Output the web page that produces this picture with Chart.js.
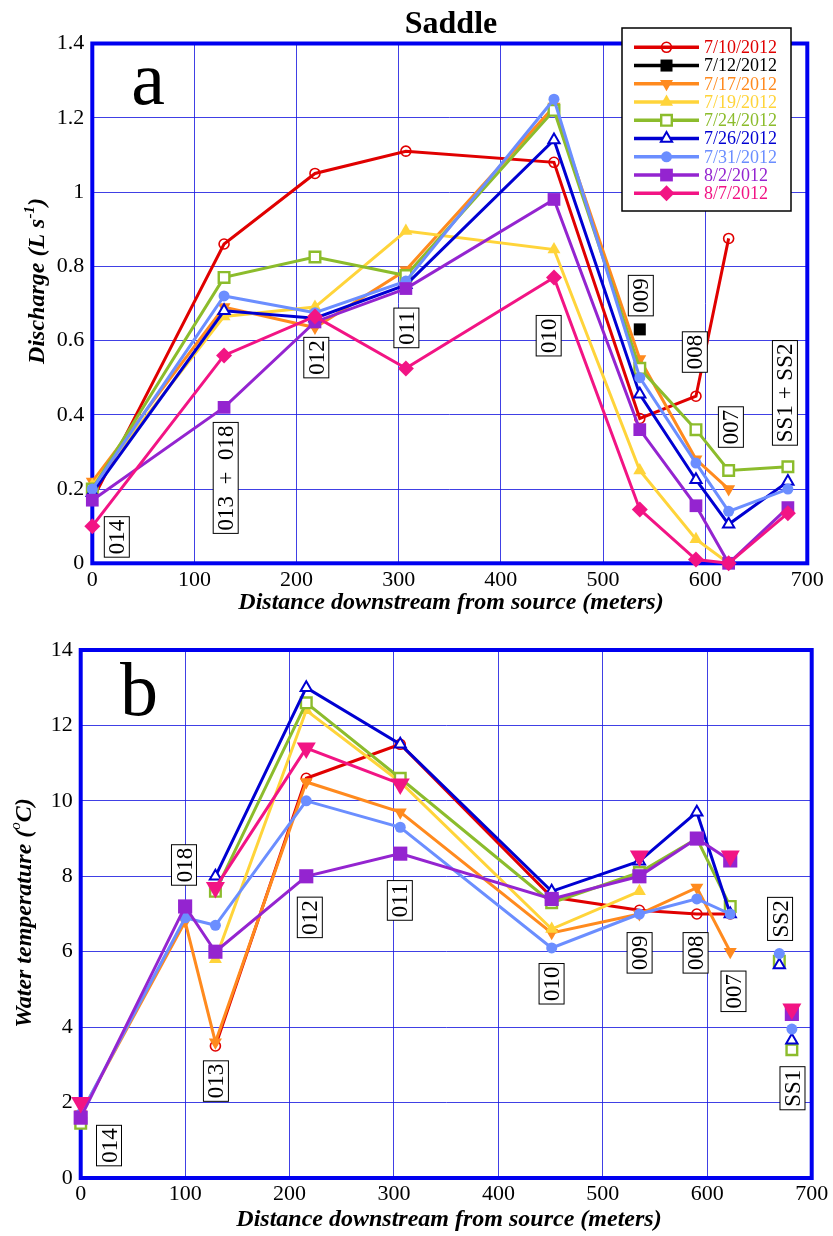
<!DOCTYPE html>
<html>
<head>
<meta charset="utf-8">
<script src="https://cdn.jsdelivr.net/npm/chart.js@4.4.1/dist/chart.umd.min.js"></script>
<style>
  html, body { margin: 0; padding: 0; background: #fff; }
  #wrapA { position: absolute; left: 0; top: 0; width: 833px; height: 615px; }
  #wrapB { position: absolute; left: 0; top: 615px; width: 833px; height: 621px; }
</style>
</head>
<body>
<div id="wrapA"><canvas id="chartA" width="833" height="615"></canvas></div>
<div id="wrapB"><canvas id="chartB" width="833" height="621"></canvas></div>
<script>
// ---- Survey dates ----
const seriesDates = ['7/10/2012', '7/12/2012', '7/17/2012', '7/19/2012', '7/24/2012',
                     '7/26/2012', '7/31/2012', '8/2/2012', '8/7/2012'];

// ---- Discharge (L s-1) by distance downstream (m) ----
const qDistance = [0, 129, 218, 307, 452, 536, 591, 623, 681];
const q_0710 = [0.17, 0.86, 1.05, 1.11, 1.08, 0.39, 0.45, 0.875, null];
const q_0712 = [null, null, null, null, null, 0.63, null, null, null];
const q_0717 = [0.22, 0.69, 0.635, 0.79, 1.23, 0.55, 0.28, 0.20, null];
const q_0719 = [0.21, 0.665, 0.69, 0.895, 0.845, 0.25, 0.065, 0.0, null];
const q_0724 = [0.20, 0.77, 0.825, 0.775, 1.22, 0.525, 0.36, 0.25, 0.26];
const q_0726 = [0.19, 0.68, 0.66, 0.75, 1.14, 0.455, 0.225, 0.105, 0.22];
const q_0731 = [0.20, 0.72, 0.675, 0.76, 1.25, 0.50, 0.27, 0.14, 0.20];
const q_0802 = [0.17, 0.42, 0.65, 0.74, 0.98, 0.36, 0.155, 0.0, 0.15];
const q_0807 = [0.10, 0.56, 0.665, 0.525, 0.77, 0.145, 0.01, 0.0, 0.135];

// ---- Water temperature (deg C) by distance downstream (m) ----
const tDistance = [0, 100, 129, 216, 306, 451, 535, 590, 622];
const t_0710 = [null, null, 3.5, 10.6, 11.5, 7.45, 7.1, 7.0, 7.0];
const t_0712 = [null, null, null, null, null, null, null, null, null];
const t_0717 = [1.7, 6.8, 3.6, 10.5, 9.7, 6.5, 7.0, 7.7, 6.0];
const t_0719 = [null, null, 5.8, 12.4, 10.5, 6.6, 7.6, null, null];
const t_0724 = [1.45, null, 7.6, 12.6, 10.6, 7.3, 8.1, 9.0, 7.2];
const t_0726 = [null, null, 8.0, 13.0, 11.5, 7.6, 8.4, 9.7, 7.0];
const t_0731 = [1.7, 6.9, 6.7, 10.0, 9.3, 6.1, 7.0, 7.4, 7.0];
const t_0802 = [1.6, 7.2, 6.0, 8.0, 8.6, 7.4, 8.0, 9.0, 8.42];
const t_0807 = [2.0, null, 7.7, 11.4, 10.45, null, 8.54, null, 8.54];

// Spring sources SS2 and SS1 (temperature only, not joined to the stream line)
const ssDistance = [669, 681];
const ss_0724 = [5.75, 3.4];
const ss_0726 = [5.65, 3.65];
const ss_0731 = [5.95, 3.95];
const ss_0802 = [null, 4.35];
const ss_0807 = [null, 4.48];

// ---- Axis ticks ----
const qTicks = [0, 0.2, 0.4, 0.6, 0.8, 1, 1.2, 1.4];
const tTicks = [0, 2, 4, 6, 8, 10, 12, 14];
const distTicks = [0, 100, 200, 300, 400, 500, 600, 700];

// ---- Site labels ----
const qSiteNames = ['014', '013  +  018', '012', '011', '010', '009', '008', '007', 'SS1 + SS2'];
const qSiteAt = [[24, 0.071], [130.6, 0.23], [219.3, 0.554], [307.5, 0.634], [446.8, 0.613],
                 [537, 0.721], [589.9, 0.569], [625.2, 0.367], [678.1, 0.459]];
const tSiteNames = ['014', '018', '013', '012', '011', '010', '009', '008', '007', 'SS2', 'SS1'];
const tSiteAt = [[27.1, 0.86], [98.9, 8.30], [129.5, 2.57], [219.4, 6.91], [305.6, 7.36],
                 [450.9, 5.15], [535.2, 5.97], [588.8, 5.97], [625.1, 4.95], [669.7, 6.87], [681.6, 2.38]];

const dischargeSeries = [q_0710, q_0712, q_0717, q_0719, q_0724, q_0726, q_0731, q_0802, q_0807];
const tempSeries = [t_0710, t_0712, t_0717, t_0719, t_0724, t_0726, t_0731, t_0802, t_0807];
const springSeries = [null, null, null, null, ss_0724, ss_0726, ss_0731, ss_0802, ss_0807];

// ---- Styling ----
const SERIF = "'Liberation Serif', 'Times New Roman', Times, serif";
const colors = ['#e00000', '#000000', '#ff8a1e', '#ffd43a', '#8cbc2c',
                '#0000d2', '#6b8eff', '#9424d0', '#f21484'];
const marks = [
  { style: 'circle',   rot: 0,   r: 5,   fill: 'rgba(255,255,255,0)', bw: 1.6 },
  { style: 'rect',     rot: 0,   r: 8.5, fill: null, bw: 0 },
  { style: 'triangle', rot: 180, r: 7.5, fill: null, bw: 0 },
  { style: 'triangle', rot: 0,   r: 7.5, fill: null, bw: 0 },
  { style: 'rect',     rot: 0,   r: 7.5, fill: '#ffffff', bw: 2.4 },
  { style: 'triangle', rot: 0,   r: 6.5, fill: '#ffffff', bw: 2 },
  { style: 'circle',   rot: 0,   r: 5.5, fill: null, bw: 0 },
  { style: 'rect',     rot: 0,   r: 9,   fill: null, bw: 0 },
  { style: 'rectRot',  rot: 0,   r: 8,   fill: null, bw: 0 }
];
// temperature panel shows 8/7/2012 with a large inverted triangle
const tempMarks = marks.map((m, i) => i === 8 ? { style: 'triangle', rot: 180, r: 11, fill: null, bw: 0 }
                                             : (i === 7 ? Object.assign({}, m, { r: 10 }) : m));
const FRAME = '#0000f0';
const GRID = 'rgba(30,30,225,0.85)';

function pts(xs, ys) { return xs.map((x, i) => ({ x: x, y: ys[i] })); }

function makeDataset(label, data, i, mk, showLine) {
  return {
    label: label,
    data: data,
    showLine: showLine,
    borderColor: colors[i],
    backgroundColor: colors[i],
    borderWidth: 3,
    tension: 0,
    spanGaps: false,
    pointStyle: mk.style,
    pointRotation: mk.rot,
    pointRadius: mk.r,
    pointHoverRadius: mk.r,
    pointBackgroundColor: mk.fill || colors[i],
    pointBorderColor: colors[i],
    pointBorderWidth: mk.bw,
    order: -i,
    clip: false
  };
}

function tickFmt(v) { return String(+v.toFixed(2)); }

function axes(xPad, yPad, xH, yW, yMax, yStep, yTickVals) {
  const font = { family: SERIF, size: 22 };
  return {
    x: {
      type: 'linear', min: 0, max: 700,
      afterBuildTicks: s => { s.ticks = distTicks.map(v => ({ value: v })); },
      ticks: { font: font, color: '#000', padding: xPad, maxRotation: 0, callback: tickFmt },
      grid: { color: GRID, lineWidth: 1, drawTicks: false },
      border: { display: false },
      afterFit: s => { s.height = xH; }
    },
    y: {
      type: 'linear', min: 0, max: yMax,
      afterBuildTicks: s => { s.ticks = yTickVals.map(v => ({ value: v })); },
      ticks: { font: font, color: '#000', padding: yPad, callback: tickFmt },
      grid: { color: GRID, lineWidth: 1, drawTicks: false },
      border: { display: false },
      afterFit: s => { s.width = yW; }
    }
  };
}

function drawRich(ctx, parts, cx, cy, rot) {
  ctx.save();
  ctx.translate(cx, cy);
  ctx.rotate(rot);
  ctx.textBaseline = 'alphabetic';
  ctx.textAlign = 'left';
  ctx.fillStyle = '#000';
  let total = 0;
  parts.forEach(p => { ctx.font = p.font; p.w = ctx.measureText(p.t).width; total += p.w; });
  let x = -total / 2;
  parts.forEach(p => { ctx.font = p.font; ctx.fillText(p.t, x, p.dy); x += p.w; });
  ctx.restore();
}

function framePlugin() {
  return {
    id: 'frame',
    beforeDatasetsDraw(chart) {
      const a = chart.chartArea, ctx = chart.ctx;
      ctx.save();
      ctx.strokeStyle = FRAME;
      ctx.lineWidth = 4;
      ctx.strokeRect(a.left, a.top, a.right - a.left, a.bottom - a.top);
      ctx.restore();
    }
  };
}

function siteLabelPlugin(names, at) {
  return {
    id: 'siteLabels',
    afterDatasetsDraw(chart) {
      const ctx = chart.ctx, sx = chart.scales.x, sy = chart.scales.y;
      ctx.save();
      ctx.font = '23px ' + SERIF;
      names.forEach((name, i) => {
        const px = sx.getPixelForValue(at[i][0]);
        const py = sy.getPixelForValue(at[i][1]);
        const w = ctx.measureText(name).width + 6;
        const h = 25;
        ctx.save();
        ctx.translate(px, py);
        ctx.rotate(-Math.PI / 2);
        ctx.fillStyle = '#fff';
        ctx.fillRect(-w / 2, -h / 2, w, h);
        ctx.strokeStyle = '#000';
        ctx.lineWidth = 1;
        ctx.strokeRect(-w / 2, -h / 2, w, h);
        ctx.fillStyle = '#000';
        ctx.textAlign = 'center';
        ctx.textBaseline = 'middle';
        ctx.fillText(name, 0, 1.5);
        ctx.restore();
      });
      ctx.restore();
    }
  };
}

function textPlugin(draw) {
  return { id: 'texts', afterDraw(chart) { draw(chart.ctx, chart); } };
}

const legendPlugin = {
  id: 'dateLegend',
  afterDraw(chart) {
    const ctx = chart.ctx;
    ctx.save();
    ctx.fillStyle = '#fff';
    ctx.fillRect(622, 28, 169, 183);
    ctx.strokeStyle = '#000';
    ctx.lineWidth = 1.5;
    ctx.strokeRect(622, 28, 169, 183);
    ctx.font = '18px ' + SERIF;
    ctx.textBaseline = 'middle';
    ctx.textAlign = 'left';
    seriesDates.forEach((d, i) => {
      const y = 47.3 + i * 18.25;
      ctx.strokeStyle = colors[i];
      ctx.lineWidth = 3.5;
      ctx.beginPath();
      ctx.moveTo(634, y);
      ctx.lineTo(699, y);
      ctx.stroke();
      const m = marks[i];
      ctx.fillStyle = m.fill || colors[i];
      ctx.strokeStyle = colors[i];
      ctx.lineWidth = m.bw;
      Chart.helpers.drawPoint(ctx, { pointStyle: m.style, rotation: m.rot, radius: m.r, borderWidth: m.bw }, 666.5, y);
      ctx.fillStyle = colors[i];
      ctx.fillText(d, 704, y + 1);
    });
    ctx.restore();
  }
};

// ---- Panel a: discharge ----
const dsA = dischargeSeries.map((ys, i) => makeDataset(seriesDates[i], pts(qDistance, ys), i, marks[i], true));

new Chart(document.getElementById('chartA'), {
  type: 'line',
  data: { datasets: dsA },
  options: {
    responsive: false,
    animation: false,
    events: [],
    layout: { padding: { top: 43.5, right: 25.7, left: 0, bottom: 0 } },
    plugins: { legend: { display: false }, tooltip: { enabled: false } },
    scales: axes(4, 8, 51.7, 92.3, 1.4, 0.2, qTicks)
  },
  plugins: [
    framePlugin(),
    siteLabelPlugin(qSiteNames, qSiteAt),
    textPlugin((ctx) => {
      ctx.save();
      ctx.fillStyle = '#000';
      ctx.textAlign = 'center';
      ctx.textBaseline = 'alphabetic';
      ctx.font = 'bold 32px ' + SERIF;
      ctx.fillText('Saddle', 451, 33);
      ctx.font = '76px ' + SERIF;
      ctx.fillText('a', 148, 104);
      ctx.font = 'bold italic 24px ' + SERIF;
      ctx.fillText('Distance downstream from source (meters)', 451, 609);
      ctx.restore();
      const f = 'bold italic 24px ' + SERIF;
      drawRich(ctx, [
        { t: 'Discharge (L s', font: f, dy: 8 },
        { t: '-1', font: 'bold italic 15px ' + SERIF, dy: -2 },
        { t: ')', font: f, dy: 8 }
      ], 36, 281, -Math.PI / 2);
    }),
    legendPlugin
  ]
});

// ---- Panel b: water temperature ----
const dsB = [];
tempSeries.forEach((ys, i) => dsB.push(makeDataset(seriesDates[i], pts(tDistance, ys), i, tempMarks[i], true)));
springSeries.forEach((ys, i) => {
  if (ys) dsB.push(makeDataset(seriesDates[i] + ' SS', pts(ssDistance, ys), i, tempMarks[i], false));
});

new Chart(document.getElementById('chartB'), {
  type: 'line',
  data: { datasets: dsB },
  options: {
    responsive: false,
    animation: false,
    events: [],
    layout: { padding: { top: 35, right: 21.3, left: 0, bottom: 0 } },
    plugins: { legend: { display: false }, tooltip: { enabled: false } },
    scales: axes(3, 8, 58, 80.7, 14, 2, tTicks)
  },
  plugins: [
    framePlugin(),
    siteLabelPlugin(tSiteNames, tSiteAt),
    textPlugin((ctx) => {
      ctx.save();
      ctx.fillStyle = '#000';
      ctx.textAlign = 'center';
      ctx.textBaseline = 'alphabetic';
      ctx.font = '76px ' + SERIF;
      ctx.fillText('b', 139, 100);
      ctx.font = 'bold italic 24px ' + SERIF;
      ctx.fillText('Distance downstream from source (meters)', 449, 611);
      ctx.restore();
      const f = 'bold italic 24px ' + SERIF;
      drawRich(ctx, [
        { t: 'Water temperature (', font: f, dy: 8 },
        { t: 'o', font: 'italic 15px ' + SERIF, dy: -3 },
        { t: 'C)', font: f, dy: 8 }
      ], 23, 298, -Math.PI / 2);
    })
  ]
});
</script>
</body>
</html>
